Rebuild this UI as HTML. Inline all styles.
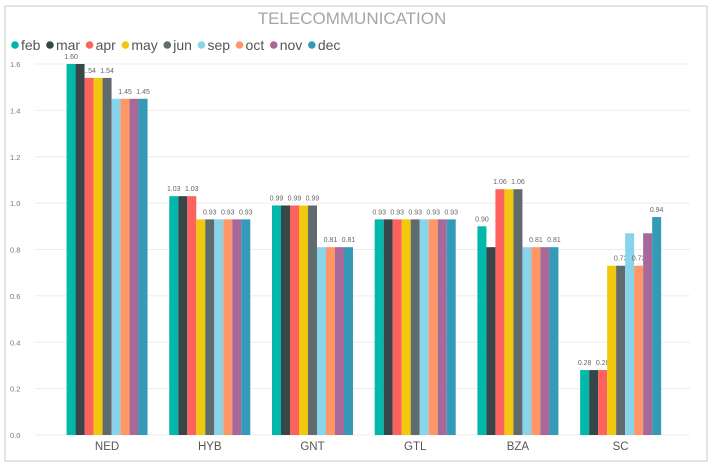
<!DOCTYPE html>
<html><head><meta charset="utf-8"><style>
body{margin:0;background:#fff;font-family:"Liberation Sans",sans-serif;}
svg{display:block}
</style></head><body>
<svg id="c" width="713" height="467">
<rect x="5" y="6" width="702" height="455" fill="#fff" stroke="#c8c8c8"/>
<text x="352" y="24" text-anchor="middle" font-size="17" fill="#a6a6a6">TELECOMMUNICATION</text>
<g id="legend"></g><g id="grid"></g><g id="bars"></g><g id="xl"></g>
</svg>
<script>
const categories=["NED","HYB","GNT","GTL","BZA","SC"];
const seriesNames=["feb","mar","apr","may","jun","sep","oct","nov","dec"];
const seriesColors=["#01B8AA","#374649","#FD625E","#F2C80F","#5F6B6D","#8AD4EB","#FE9666","#A66999","#3599B8"];
const feb=[1.60,1.03,0.99,0.93,0.90,0.28];
const mar=[1.60,1.03,0.99,0.93,0.81,0.28];
const apr=[1.54,1.03,0.99,0.93,1.06,0.28];
const may=[1.54,0.93,0.99,0.93,1.06,0.73];
const jun=[1.54,0.93,0.99,0.93,1.06,0.73];
const sep=[1.45,0.93,0.81,0.93,0.81,0.87];
const oct=[1.45,0.93,0.81,0.93,0.81,0.73];
const nov=[1.45,0.93,0.81,0.93,0.81,0.87];
const dec=[1.45,0.93,0.81,0.93,0.81,0.94];
const yTicks=[0,0.2,0.4,0.6,0.8,1.0,1.2,1.4,1.6];
const series=[feb,mar,apr,may,jun,sep,oct,nov,dec];
const NS="http://www.w3.org/2000/svg";
const y0=435,y1=64,x0=55.7,x1=672;
const yS=v=>y0-(v/1.6)*(y0-y1);
const band=(x1-x0)/categories.length;
const bw=9;
function mk(t,a,p){const e=document.createElementNS(NS,t);for(const k in a)e.setAttribute(k,a[k]);p.appendChild(e);return e;}
const G=document.getElementById('grid');
yTicks.forEach(v=>{
 const l=mk('line',{x1:35,x2:690,y1:yS(v),y2:yS(v),stroke:'#ececec'},G);
 
 
 const t=mk('text',{x:10,y:yS(v)+3,'font-size':7.5,fill:'#777'},G);t.textContent=v.toFixed(1);
 
 
});
const L=document.getElementById('legend');let lx=12;
seriesNames.forEach((n,i)=>{
 const g=mk('g',{},L);
 
 
 mk('circle',{cx:lx+3,cy:45,r:3.8,fill:seriesColors[i]},g);
 const t=mk('text',{x:lx+9,y:50,'font-size':14,fill:'#555'},g);t.textContent=n;
 lx+=9+t.getComputedTextLength()+6.5;
});
const B=document.getElementById('bars');
categories.forEach((c,ci)=>{
 const cx=x0+band*(ci+0.5),start=cx-bw*series.length/2;
 series.forEach((s,si)=>{
  const v=s[ci],x=start+si*bw;
  const r=mk('rect',{x:x,y:yS(v),width:bw,height:y0-yS(v),fill:seriesColors[si]},B);
  
  
  if(si%2===0){const t=mk('text',{x:x+bw/2,y:yS(v)-5,'text-anchor':'middle','font-size':7,fill:'#666'},B);t.textContent=v.toFixed(2);
  
  }
 });
 const t=mk('text',{x:cx,y:450,'text-anchor':'middle','font-size':11.5,fill:'#555'},document.getElementById('xl'));t.textContent=c;
 
 
});
</script>
</body></html>
